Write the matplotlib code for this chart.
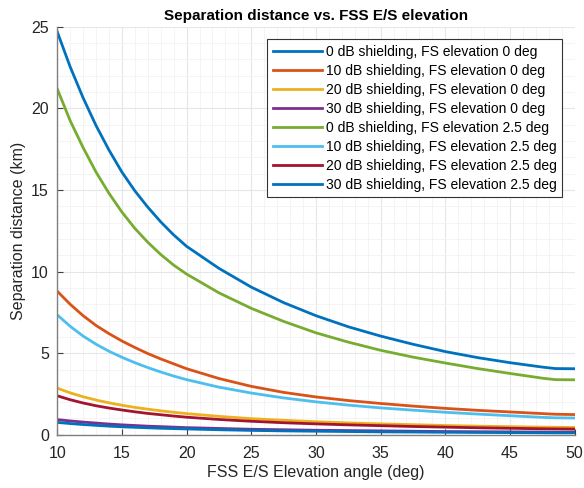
import matplotlib
matplotlib.use("Agg")
import matplotlib.pyplot as plt
from matplotlib.ticker import MultipleLocator

plt.rcParams['font.family'] = ['Liberation Sans', 'DejaVu Sans']

# FSS earth station elevation angle (deg)
elev = [10, 11, 12, 13, 14, 15, 16, 17, 18, 19, 20,
        22.5, 25, 27.5, 30, 32.5, 35, 37.5, 40, 42.5, 45, 47.5, 48.5, 50]

# separation distance (km), FS elevation 0 deg
sep_0db_fs0 = [24.7, 22.55, 20.65, 18.95, 17.45, 16.1, 14.95, 13.95, 13.05, 12.25, 11.55,
               10.2, 9.05, 8.1, 7.3, 6.62, 6.05, 5.55, 5.1, 4.73, 4.42, 4.15, 4.06, 4.05]
sep_10db_fs0 = [8.8, 8.0, 7.3, 6.7, 6.2, 5.75, 5.35, 4.98, 4.65, 4.35, 4.05,
                3.45, 2.97, 2.6, 2.32, 2.1, 1.92, 1.76, 1.62, 1.5, 1.4, 1.3, 1.26, 1.24]
sep_20db_fs0 = [2.86, 2.57, 2.33, 2.13, 1.96, 1.81, 1.68, 1.57, 1.47, 1.38, 1.3,
                1.13, 0.99, 0.89, 0.8, 0.73, 0.67, 0.62, 0.57, 0.53, 0.5, 0.47, 0.46, 0.45]
sep_30db_fs0 = [0.93, 0.85, 0.78, 0.72, 0.66, 0.61, 0.57, 0.53, 0.5, 0.47, 0.44,
                0.39, 0.34, 0.31, 0.28, 0.26, 0.24, 0.22, 0.2, 0.19, 0.18, 0.17, 0.16, 0.16]

# separation distance (km), FS elevation 2.5 deg
sep_0db_fs25 = [21.2, 19.25, 17.6, 16.1, 14.8, 13.65, 12.65, 11.8, 11.05, 10.4, 9.85,
                8.7, 7.75, 6.95, 6.25, 5.68, 5.18, 4.76, 4.4, 4.06, 3.76, 3.47, 3.38, 3.37]
sep_10db_fs25 = [7.35, 6.65, 6.05, 5.55, 5.12, 4.75, 4.42, 4.12, 3.85, 3.6, 3.38,
                 2.92, 2.56, 2.26, 2.02, 1.82, 1.65, 1.51, 1.38, 1.27, 1.17, 1.07, 1.04, 1.03]
sep_20db_fs25 = [2.39, 2.15, 1.95, 1.78, 1.64, 1.52, 1.41, 1.31, 1.23, 1.15, 1.08,
                 0.94, 0.83, 0.74, 0.67, 0.61, 0.56, 0.51, 0.47, 0.43, 0.4, 0.37, 0.36, 0.35]
sep_30db_fs25 = [0.76, 0.69, 0.63, 0.58, 0.53, 0.49, 0.46, 0.43, 0.4, 0.38, 0.36,
                 0.31, 0.27, 0.24, 0.22, 0.2, 0.18, 0.17, 0.155, 0.145, 0.135, 0.125, 0.12, 0.12]

series = [
    (sep_0db_fs0, "0 dB shielding, FS elevation 0 deg", "#0072BD"),
    (sep_10db_fs0, "10 dB shielding, FS elevation 0 deg", "#D95319"),
    (sep_20db_fs0, "20 dB shielding, FS elevation 0 deg", "#EDB120"),
    (sep_30db_fs0, "30 dB shielding, FS elevation 0 deg", "#7E2F8E"),
    (sep_0db_fs25, "0 dB shielding, FS elevation 2.5 deg", "#77AC30"),
    (sep_10db_fs25, "10 dB shielding, FS elevation 2.5 deg", "#4DBEEE"),
    (sep_20db_fs25, "20 dB shielding, FS elevation 2.5 deg", "#A2142F"),
    (sep_30db_fs25, "30 dB shielding, FS elevation 2.5 deg", "#0072BD"),
]

fig = plt.figure(figsize=(5.84, 4.88), dpi=100)
ax = fig.add_axes([0.098, 0.109, 0.886, 0.836])

for vals, label, color in series:
    ax.plot(elev, vals, color=color, linewidth=2.0, label=label)

ax.set_xlim(10, 50)
ax.set_ylim(0, 25)
ax.xaxis.set_major_locator(MultipleLocator(5))
ax.yaxis.set_major_locator(MultipleLocator(5))
ax.xaxis.set_minor_locator(MultipleLocator(1))
ax.yaxis.set_minor_locator(MultipleLocator(1))

ax.grid(True, which='major', color='#e6e6e6', linewidth=0.8)
ax.grid(True, which='minor', color='#f2f2f2', linewidth=0.6)
ax.set_axisbelow(True)

for side in ['top', 'right']:
    ax.spines[side].set_visible(False)
for side in ['left', 'bottom']:
    ax.spines[side].set_color('#808080')
    ax.spines[side].set_linewidth(1.0)

ax.tick_params(which='both', direction='in', colors='#404040', labelsize=11.5)
ax.tick_params(which='major', length=4)
ax.tick_params(which='minor', length=0)
ax.tick_params(axis='x', which='major', pad=8)
ax.tick_params(axis='y', which='major', pad=6)
for lbl in ax.get_xticklabels() + ax.get_yticklabels():
    lbl.set_color('#262626')

ax.set_xlabel("FSS E/S Elevation angle (deg)", fontsize=11.5, color='#262626', labelpad=3)
ax.set_ylabel("Separation distance (km)", fontsize=11.5, color='#262626')
ax.set_title("Separation distance vs. FSS E/S elevation", fontsize=11,
             fontweight='bold', pad=5)

leg = ax.legend(loc='upper right', fontsize=10, frameon=True, fancybox=False,
                edgecolor='#333333', framealpha=1, handlelength=3.5,
                handletextpad=0.3, labelspacing=0.36, borderaxespad=0.9,
                borderpad=0.4)
leg.get_frame().set_linewidth(0.8)

fig.savefig("out.png", dpi=100)
